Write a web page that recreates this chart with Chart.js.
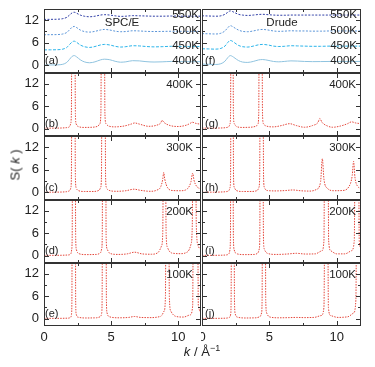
<!DOCTYPE html>
<html>
<head>
<meta charset="utf-8">
<script src="https://cdn.jsdelivr.net/npm/chart.js@4.4.0/dist/chart.umd.min.js"></script>
<style>
body { margin: 0; background: #fff; width: 375px; height: 367px; overflow: hidden; position: relative; font-family: "Liberation Sans", Arial, sans-serif; color: #222; }
canvas { position: absolute; }
.t { position: absolute; line-height: 1; white-space: nowrap; }
</style>
</head>
<body>
<script>
// axis ticks
const yTickLabels = [0, 6, 12];
const xTickLabels = [0, 5, 10];
const yMarks = [0, 3, 6, 9, 12];
const xMarks = [2.5, 5, 7.5, 10];

// liquid curves, panels (a) and (f): shared k grid
const kLiq = [0, 0.5, 1.0, 1.4, 1.7, 1.9, 2.1, 2.25, 2.45, 2.7, 3.0, 3.4, 3.8, 4.2, 4.5, 4.9, 5.3, 5.7, 6.1, 6.6, 7.1, 7.6, 8.2, 8.8, 9.5, 10.2, 11.0, 11.8];
const sA400 = [0.1, 0.12, 0.15, 0.3, 0.8, 1.6, 2.4, 2.6, 2.2, 1.5, 0.95, 0.7, 0.95, 1.45, 1.65, 1.5, 1.1, 0.85, 0.95, 1.25, 1.2, 1.0, 0.9, 0.95, 1.05, 1.0, 0.98, 1.0];
const sA450 = [4.1, 4.12, 4.15, 4.3, 4.75, 5.5, 6.2, 6.4, 6.05, 5.4, 4.95, 4.75, 5.0, 5.4, 5.55, 5.4, 5.05, 4.85, 4.95, 5.2, 5.15, 5.0, 4.9, 4.95, 5.05, 5.0, 4.95, 5.0];
const sA500 = [8.1, 8.12, 8.15, 8.3, 8.7, 9.4, 10.1, 10.3, 9.95, 9.35, 8.95, 8.8, 9.0, 9.35, 9.5, 9.35, 9.05, 8.9, 8.95, 9.15, 9.1, 9.0, 8.95, 8.98, 9.02, 9.0, 8.98, 9.0];
const sA550 = [12.15, 12.17, 12.2, 12.35, 12.7, 13.3, 13.9, 14.05, 13.75, 13.3, 13.0, 12.85, 13.0, 13.3, 13.4, 13.3, 13.1, 12.95, 13.0, 13.15, 13.1, 13.05, 13.0, 13.0, 13.05, 13.0, 13.0, 13.0];
const sF400 = [0.35, 0.3, 0.25, 0.45, 1.1, 2.0, 2.6, 2.4, 1.9, 1.3, 0.9, 0.8, 1.05, 1.45, 1.55, 1.35, 1.05, 0.95, 1.05, 1.2, 1.15, 1.05, 1.0, 1.02, 1.05, 1.05, 1.05, 1.05];
const sF450 = [4.4, 4.35, 4.3, 4.5, 5.1, 6.0, 6.6, 6.4, 5.9, 5.3, 4.95, 4.85, 5.1, 5.45, 5.55, 5.4, 5.1, 5.0, 5.05, 5.2, 5.15, 5.1, 5.05, 5.05, 5.1, 5.1, 5.1, 5.1];
const sF500 = [8.4, 8.35, 8.3, 8.5, 9.1, 9.9, 10.5, 10.3, 9.85, 9.35, 9.0, 8.9, 9.1, 9.4, 9.5, 9.35, 9.1, 9.0, 9.05, 9.15, 9.1, 9.1, 9.05, 9.05, 9.1, 9.1, 9.1, 9.1];
const sF550 = [13.1, 13.05, 13.0, 13.1, 13.5, 14.0, 14.4, 14.25, 13.9, 13.5, 13.3, 13.2, 13.3, 13.45, 13.5, 13.4, 13.3, 13.25, 13.25, 13.3, 13.3, 13.3, 13.3, 13.3, 13.3, 13.3, 13.3, 13.3];

// crystal panels: [k, S(k)], peaks run off the top
const sB = [[0,0.1],[1,0.12],[1.7,0.25],[1.9,0.5],[1.98,1.2],[2.04,4],[2.08,30],[2.3,30],[2.34,4],[2.4,1.2],[2.55,0.55],[3.0,0.3],[3.6,0.35],[4.0,0.6],[4.15,1.2],[4.24,4],[4.28,30],[4.5,30],[4.54,4],[4.62,1.3],[4.8,0.7],[5.3,0.45],[6.0,0.7],[6.5,1.2],[6.75,1.5],[7.1,1.2],[7.8,0.6],[8.4,0.9],[8.7,1.5],[8.8,2.2],[8.95,1.6],[9.4,0.8],[10.0,0.55],[10.6,0.9],[10.9,1.4],[11.05,1.7],[11.3,1.4],[11.8,1.1]];
const sC = [[0,0.05],[1,0.08],[1.7,0.2],[1.9,0.45],[2.0,1.2],[2.04,4],[2.08,30],[2.3,30],[2.34,4],[2.4,1.2],[2.55,0.5],[3.0,0.25],[3.7,0.25],[4.1,0.55],[4.22,1.3],[4.28,4],[4.32,30],[4.55,30],[4.59,4],[4.65,1.3],[4.85,0.55],[5.4,0.3],[6.1,0.45],[6.7,0.85],[7.2,0.55],[7.9,0.3],[8.4,0.6],[8.7,1.5],[8.85,3.5],[8.92,5.3],[9.0,3.5],[9.2,1.3],[9.6,0.5],[10.2,0.45],[10.7,1.0],[10.95,2.8],[11.08,5.1],[11.18,3.2],[11.4,1.5],[11.8,0.9]];
const sD = [[0,0.05],[1,0.06],[1.8,0.15],[2.0,0.5],[2.06,1.5],[2.1,5],[2.13,30],[2.33,30],[2.36,5],[2.42,1.5],[2.6,0.5],[3.2,0.25],[3.9,0.3],[4.2,0.7],[4.3,1.8],[4.34,5],[4.37,30],[4.6,30],[4.63,5],[4.7,1.8],[4.9,0.6],[5.5,0.3],[6.2,0.45],[6.75,0.9],[7.3,0.45],[8.0,0.35],[8.5,0.8],[8.75,2.5],[8.85,6],[8.9,30],[9.05,30],[9.1,6],[9.2,2.2],[9.5,0.7],[10.2,0.5],[10.7,1.0],[10.95,3],[11.05,8],[11.1,30],[11.3,30],[11.35,8],[11.5,2.5],[11.8,1.2]];
const sE = [[0,0.05],[1,0.05],[1.8,0.1],[2.0,0.35],[2.05,1.2],[2.08,5],[2.1,30],[2.34,30],[2.36,5],[2.4,1.2],[2.55,0.35],[3.2,0.15],[3.9,0.2],[4.2,0.5],[4.3,1.5],[4.33,5],[4.36,30],[4.62,30],[4.65,5],[4.7,1.5],[4.9,0.45],[5.6,0.2],[6.3,0.3],[6.75,0.55],[7.2,0.3],[8.0,0.25],[8.7,0.6],[8.95,2],[9.05,6],[9.09,30],[9.3,30],[9.34,6],[9.45,2],[9.8,0.6],[10.4,0.4],[10.9,1.0],[11.08,3.5],[11.13,30],[11.45,30],[11.5,3.5],[11.8,1.5]];
const sG = [[0,0.1],[1,0.12],[1.8,0.25],[2.0,0.55],[2.08,1.3],[2.12,4],[2.15,30],[2.3,30],[2.33,4],[2.4,1.3],[2.55,0.55],[3.0,0.3],[3.6,0.35],[4.0,0.6],[4.15,1.2],[4.21,4],[4.25,30],[4.45,30],[4.49,4],[4.56,1.3],[4.75,0.7],[5.3,0.45],[5.9,0.8],[6.5,1.3],[7.0,0.8],[7.6,0.35],[8.2,0.8],[8.6,1.6],[8.75,2.7],[8.9,1.7],[9.3,0.7],[9.7,0.35],[10.3,0.7],[10.8,1.3],[11.1,1.8],[11.4,1.5],[11.8,1.3]];
const sH = [[0,0.05],[1,0.08],[1.8,0.2],[2.0,0.5],[2.08,1.3],[2.12,4],[2.15,30],[2.31,30],[2.34,4],[2.4,1.3],[2.55,0.5],[3.0,0.25],[3.7,0.25],[4.1,0.5],[4.22,1.3],[4.28,4],[4.32,30],[4.53,30],[4.57,4],[4.63,1.3],[4.85,0.5],[5.5,0.4],[6.2,0.5],[6.75,0.65],[7.3,0.45],[8.0,0.35],[8.5,0.8],[8.8,2.8],[8.93,8.9],[9.05,3.5],[9.3,1.1],[9.8,0.45],[10.4,0.5],[10.9,1.5],[11.15,4.5],[11.25,8.2],[11.35,4],[11.55,1.6],[11.8,1.1]];
const sI = [[0,0.05],[1,0.06],[1.8,0.15],[2.0,0.5],[2.07,1.5],[2.11,5],[2.14,30],[2.3,30],[2.33,5],[2.39,1.5],[2.55,0.5],[3.2,0.25],[3.9,0.3],[4.15,0.7],[4.25,1.8],[4.29,5],[4.32,30],[4.53,30],[4.56,5],[4.62,1.8],[4.85,0.6],[5.5,0.3],[6.3,0.4],[7.0,0.6],[7.7,0.4],[8.4,0.45],[8.9,1.3],[9.05,4],[9.1,30],[9.35,30],[9.4,4],[9.55,1.3],[10.0,0.45],[10.6,0.45],[11.1,1.3],[11.3,4],[11.37,30],[11.62,30],[11.67,4],[11.8,2]];
const sJ = [[0,0.05],[1,0.05],[1.8,0.1],[2.05,0.35],[2.13,1.2],[2.16,5],[2.19,30],[2.38,30],[2.41,5],[2.47,1.2],[2.65,0.35],[3.3,0.15],[4.0,0.2],[4.3,0.5],[4.42,1.5],[4.46,5],[4.49,30],[4.7,30],[4.73,5],[4.8,1.5],[5.0,0.45],[5.7,0.2],[6.5,0.25],[7.0,0.3],[7.6,0.25],[8.3,0.3],[8.85,0.8],[9.05,3],[9.12,30],[9.33,30],[9.38,3],[9.55,0.8],[10.1,0.3],[10.8,0.45],[11.25,1.5],[11.42,5],[11.48,30],[11.8,30]];

const rowTops = [9, 73, 136, 200, 263];
const rowBottoms = [73, 136, 200, 263, 326];
const RED = '#e4463a';

// border plus inward tick marks on all four sides
const framePlugin = {
    id: 'frame',
    afterDatasetsDraw(chart) {
        const { ctx, chartArea: a, scales } = chart;
        ctx.save();
        ctx.strokeStyle = '#333';
        ctx.lineWidth = 1;
        ctx.strokeRect(a.left + 0.5, a.top + 0.5, a.right - a.left - 1, a.bottom - a.top - 1);
        ctx.beginPath();
        xMarks.forEach(function(v) {
            const px = Math.round(scales.x.getPixelForValue(v)) + 0.5;
            const len = v % 5 === 0 ? 5 : 3;
            ctx.moveTo(px, a.bottom); ctx.lineTo(px, a.bottom - len);
            ctx.moveTo(px, a.top); ctx.lineTo(px, a.top + len);
        });
        yMarks.forEach(function(v) {
            const py = Math.round(scales.y.getPixelForValue(v)) + 0.5;
            const len = v % 6 === 0 ? 5 : 3;
            ctx.moveTo(a.left, py); ctx.lineTo(a.left + len, py);
            ctx.moveTo(a.right, py); ctx.lineTo(a.right - len, py);
        });
        ctx.stroke();
        ctx.restore();
    }
};

function liq(s, color, dash) {
    return { data: kLiq.map(function(k, i) { return { x: k, y: s[i] }; }), borderColor: color, borderDash: dash, borderWidth: 1 };
}
function red(pairs) {
    return { data: pairs.map(function(p) { return { x: p[0], y: p[1] }; }), borderColor: RED, borderDash: [1.5, 1.2], borderWidth: 1 };
}

function makePanel(col, row, datasets) {
    const c = document.createElement('canvas');
    const plotH = rowBottoms[row] - rowTops[row];
    const w = col === 0 ? 201 : 160;
    const h = row === 4 ? plotH + 26 : plotH;
    c.width = w; c.height = h;
    c.style.width = w + 'px'; c.style.height = h + 'px';
    c.style.left = (col === 0 ? 0 : 201) + 'px';
    c.style.top = rowTops[row] + 'px';
    document.body.appendChild(c);
    const font = { family: '"Liberation Sans", Arial, sans-serif', size: 13 };
    new Chart(c, {
        type: 'line',
        data: { datasets: datasets },
        options: {
            responsive: false,
            animation: false,
            events: [],
            layout: { padding: { left: col === 0 ? 0 : 1, right: 0, top: 0, bottom: 0 } },
            plugins: { legend: { display: false }, tooltip: { enabled: false } },
            elements: { point: { radius: 0 }, line: { cubicInterpolationMode: 'monotone' } },
            scales: {
                x: {
                    type: 'linear', min: 0, max: col === 0 ? 11.7 : 11.8,
                    display: row === 4,
                    grid: { display: false, drawTicks: false },
                    border: { display: false },
                    ticks: { font: font, color: '#222', padding: 4, maxRotation: 0 },
                    afterBuildTicks: function(s) { s.ticks = xTickLabels.map(function(v) { return { value: v }; }); },
                    afterFit: function(s) {
                        s.height = row === 4 ? 26 : 0;
                        s.paddingLeft = 0; s.paddingRight = 0;
                    }
                },
                y: {
                    type: 'linear', min: -2, max: 14.9,
                    display: col === 0,
                    grid: { display: false, drawTicks: false },
                    border: { display: false },
                    ticks: { font: font, color: '#222', padding: 5 },
                    afterBuildTicks: function(s) { s.ticks = yTickLabels.map(function(v) { return { value: v }; }); },
                    afterFit: function(s) {
                        s.width = col === 0 ? 44 : 0;
                        s.paddingTop = 0; s.paddingBottom = 0;
                    }
                }
            }
        },
        plugins: [framePlugin]
    });
}

makePanel(0, 0, [liq(sA400, '#8fc3df', []), liq(sA450, '#2bb4ea', [3, 1.5]), liq(sA500, '#5b95d8', [2, 1.5]), liq(sA550, '#2f3ea6', [2, 1.5])]);
makePanel(1, 0, [liq(sF400, '#8fc3df', []), liq(sF450, '#2bb4ea', [3, 1.5]), liq(sF500, '#5b95d8', [2, 1.5]), liq(sF550, '#2f3ea6', [2, 1.5])]);
makePanel(0, 1, [red(sB)]);
makePanel(1, 1, [red(sG)]);
makePanel(0, 2, [red(sC)]);
makePanel(1, 2, [red(sH)]);
makePanel(0, 3, [red(sD)]);
makePanel(1, 3, [red(sI)]);
makePanel(0, 4, [red(sE)]);
makePanel(1, 4, [red(sJ)]);

// text annotations
function addText(html, x, y, align, size) {
    const d = document.createElement('div');
    d.className = 't';
    d.innerHTML = html;
    d.style.fontSize = size + 'px';
    d.style.top = y + 'px';
    if (align === 'right') {
        d.style.right = (375 - x) + 'px';
        d.style.transform = 'translateY(-50%)';
    } else if (align === 'center') {
        d.style.left = x + 'px';
        d.style.transform = 'translate(-50%, -50%)';
    } else {
        d.style.left = x + 'px';
        d.style.transform = 'translateY(-50%)';
    }
    document.body.appendChild(d);
}

addText('SPC/E', 122, 23, 'center', 11.5);
addText('Drude', 282, 23, 'center', 11.5);
['550K', '500K', '450K', '400K'].forEach(function(t, i) {
    const y = [15, 31, 46, 61][i];
    addText(t, 199, y, 'right', 11.5);
    addText(t, 357, y, 'right', 11.5);
});
['400K', '300K', '200K', '100K'].forEach(function(t, i) {
    const y = rowTops[i + 1] + 11.5;
    addText(t, 193, y, 'right', 11.5);
    addText(t, 356, y, 'right', 11.5);
});
['a', 'b', 'c', 'd', 'e'].forEach(function(l, i) {
    addText('(' + l + ')', 45, rowBottoms[i] - 13, 'left', 11);
});
['f', 'g', 'h', 'i', 'j'].forEach(function(l, i) {
    addText('(' + l + ')', 205, rowBottoms[i] - 13, 'left', 11);
});

// axis titles
const yTitle = document.createElement('div');
yTitle.className = 't';
yTitle.innerHTML = 'S( <i>k</i> )';
yTitle.style.fontSize = '13px';
yTitle.style.left = '15px';
yTitle.style.top = '165px';
yTitle.style.transform = 'translate(-50%, -50%) rotate(-90deg)';
document.body.appendChild(yTitle);
addText('<i>k</i> / Å<sup style="font-size:9px">−1</sup>', 202, 351, 'center', 13);
</script>
</body>
</html>
